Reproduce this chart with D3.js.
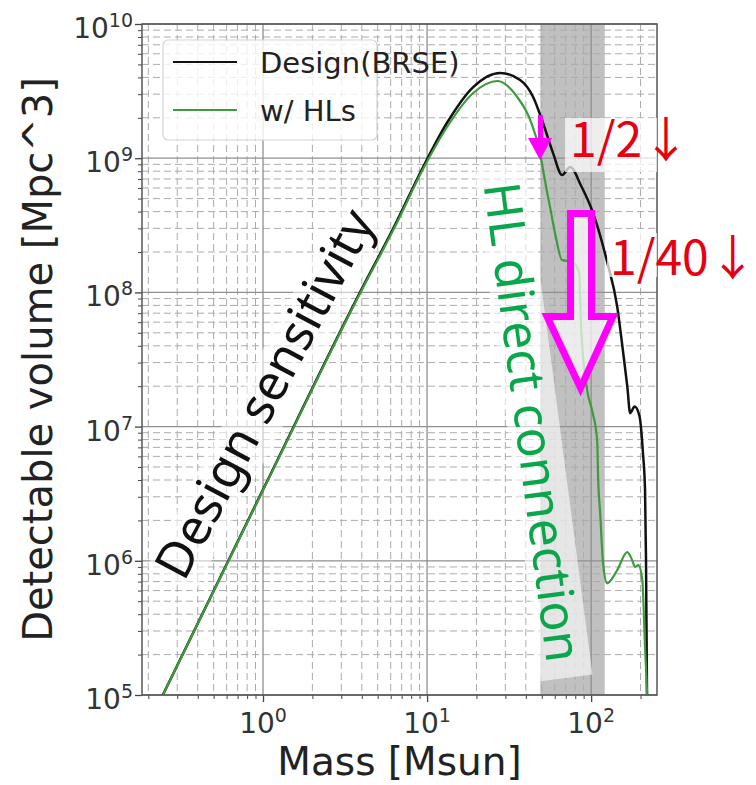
<!DOCTYPE html>
<html>
<head>
<meta charset="utf-8">
<title>Detectable volume</title>
<script src="https://cdn.jsdelivr.net/npm/d3@7"></script>
<style>
  body { margin:0; background:#fff; }
  svg { display:block; }
</style>
</head>
<body>
<script>

// ---- data ----
var designMass = [0.2, 1.0, 3.9, 6.3, 9.46, 13.2, 19.1, 27.9, 36.9, 44.3, 50.9, 58.6, 66.5, 74.5, 87, 102.8, 125, 144, 157, 166, 173, 184, 197, 207, 213, 216, 219, 221];
var designVol  = [6.0e4, 3.39e6, 1.0e8, 3.09e8, 8.6e8, 1.83e9, 3.39e9, 4.32e9, 3.83e9, 2.86e9, 1.83e9, 1.09e9, 7.5e8, 8.6e8, 6.2e8, 3.9e8, 1.7e8, 7.9e7, 3.5e7, 2.0e7, 1.26e7, 1.41e7, 1.2e7, 6.3e6, 3.4e6, 1.0e6, 1.0e5, 3.2e4];

var hlMass = [0.2, 1.0, 3.9, 6.3, 9.46, 13.2, 19.1, 26.9, 35.4, 42.5, 48.9, 50.9, 54.0, 56.2, 60.3, 66.5, 76, 84.5, 86.9, 94.6, 101.4, 108.8, 110.4, 113.5, 118.3, 125.3, 144, 166, 178, 185, 194, 205, 213, 219, 223];
var hlVol  = [6.0e4, 3.35e6, 9.8e7, 3.0e8, 8.3e8, 1.7e9, 3.06e9, 3.76e9, 2.86e9, 1.93e9, 1.09e9, 8.2e8, 5.5e8, 4.3e8, 2.75e8, 1.74e8, 1.7e8, 1.41e8, 5.4e7, 1.86e7, 1.32e7, 7.9e6, 4.0e6, 2.27e6, 9.5e5, 6.8e5, 8.5e5, 1.16e6, 1.01e6, 9.0e5, 9.3e5, 7.2e5, 2.28e5, 1.04e5, 4.6e4];

var massTicks = [1, 10, 100];
var massTickExp = ["0", "1", "2"];
var volTicks = [1e5, 1e6, 1e7, 1e8, 1e9, 1e10];
var volTickExp = ["5", "6", "7", "8", "9", "10"];

var bandMass = [49, 121];   // shaded mass range

var seriesNames = ["Design(BRSE)", "w/ HLs"];

// ---- layout ----
var W = 756, H = 785;
var L = 142, R = 657, T = 24, B = 695;

var svg = d3.select("body").append("svg")
    .attr("width", W).attr("height", H);

var x = d3.scaleLog().domain([0.183, 252]).range([L, R]);
var y = d3.scaleLog().domain([1e5, 1e10]).range([B, T]);

var minorMass = [], minorVol = [];
[0.1, 1, 10, 100].forEach(function (d) {
  for (var k = 2; k <= 9; k++) {
    var v = d * k;
    if (v >= x.domain()[0] && v <= x.domain()[1]) minorMass.push(v);
  }
});
[1e5, 1e6, 1e7, 1e8, 1e9].forEach(function (d) {
  for (var k = 2; k <= 9; k++) minorVol.push(d * k);
});

svg.append("defs").append("clipPath").attr("id", "plotclip")
  .append("rect").attr("x", L).attr("y", T).attr("width", R - L).attr("height", B - T);

// shaded band
svg.append("rect")
    .attr("x", x(bandMass[0])).attr("y", T)
    .attr("width", x(bandMass[1]) - x(bandMass[0]))
    .attr("height", B - T)
    .attr("fill", "#c0c0c0");

// grid
var grid = svg.append("g");
grid.selectAll(".gxm").data(minorMass).enter().append("line")
    .attr("x1", function (d) { return x(d); }).attr("x2", function (d) { return x(d); })
    .attr("y1", T).attr("y2", B)
    .attr("stroke", "#ababab").attr("stroke-width", 1).attr("stroke-dasharray", "7,4");
grid.selectAll(".gym").data(minorVol).enter().append("line")
    .attr("y1", function (d) { return y(d); }).attr("y2", function (d) { return y(d); })
    .attr("x1", L).attr("x2", R)
    .attr("stroke", "#ababab").attr("stroke-width", 1).attr("stroke-dasharray", "7,4");
grid.selectAll(".gx").data(massTicks).enter().append("line")
    .attr("x1", function (d) { return x(d); }).attr("x2", function (d) { return x(d); })
    .attr("y1", T).attr("y2", B)
    .attr("stroke", "#8f8f8f").attr("stroke-width", 1.3);
grid.selectAll(".gy").data(volTicks).enter().append("line")
    .attr("y1", function (d) { return y(d); }).attr("y2", function (d) { return y(d); })
    .attr("x1", L).attr("x2", R)
    .attr("stroke", "#8f8f8f").attr("stroke-width", 1.3);

// white box behind "Design sensitivity"
var ds = svg.append("g").attr("transform", "translate(280,402) rotate(-62)");
ds.append("rect").attr("x", -208).attr("y", -40).attr("width", 416).attr("height", 54)
    .attr("fill", "#fff").attr("opacity", 0.55);

// white box behind "HL direct connection"
var hl = svg.append("g").attr("transform", "translate(533,422) rotate(82.5)");
hl.append("rect").attr("x", -258).attr("y", -26).attr("width", 516).attr("height", 52)
    .attr("fill", "#fff").attr("opacity", 0.6);

// curves
var line = d3.line()
    .x(function (d) { return x(d[0]); })
    .y(function (d) { return y(d[1]); })
    .curve(d3.curveMonotoneX);

var curves = svg.append("g").attr("clip-path", "url(#plotclip)");
curves.append("path")
    .attr("d", line(d3.zip(designMass, designVol)))
    .attr("fill", "none").attr("stroke", "#111").attr("stroke-width", 2.5);
curves.append("path")
    .attr("d", line(d3.zip(hlMass, hlVol)))
    .attr("fill", "none").attr("stroke", "#3d9a3d").attr("stroke-width", 2.2);

// axes
svg.append("g").attr("transform", "translate(0," + B + ")")
    .call(d3.axisBottom(x).tickValues(minorMass).tickSize(4).tickFormat(""))
    .call(function (g) { g.select(".domain").remove(); g.selectAll("line").attr("stroke", "#444"); });
svg.append("g").attr("transform", "translate(0," + B + ")")
    .call(d3.axisBottom(x).tickValues(massTicks).tickSize(7).tickFormat(""))
    .call(function (g) { g.select(".domain").remove(); g.selectAll("line").attr("stroke", "#444").attr("stroke-width", 1.3); });
svg.append("g").attr("transform", "translate(" + L + ",0)")
    .call(d3.axisLeft(y).tickValues(minorVol).tickSize(4).tickFormat(""))
    .call(function (g) { g.select(".domain").remove(); g.selectAll("line").attr("stroke", "#444"); });
svg.append("g").attr("transform", "translate(" + L + ",0)")
    .call(d3.axisLeft(y).tickValues(volTicks).tickSize(7).tickFormat(""))
    .call(function (g) { g.select(".domain").remove(); g.selectAll("line").attr("stroke", "#444").attr("stroke-width", 1.3); });

// tick labels with superscripts
var xl = svg.selectAll(".xl").data(massTicks).enter().append("text")
    .attr("x", function (d) { return x(d); }).attr("y", 733)
    .attr("text-anchor", "middle")
    .attr("font-family", "DejaVu Sans").attr("font-size", 28).attr("fill", "#333");
xl.append("tspan").text("10");
xl.append("tspan").attr("font-size", 19).attr("dy", -11).text(function (d, i) { return massTickExp[i]; });

var yl = svg.selectAll(".yl").data(volTicks).enter().append("text")
    .attr("x", 133).attr("y", function (d) { return y(d) + 14; })
    .attr("text-anchor", "end")
    .attr("font-family", "DejaVu Sans").attr("font-size", 28).attr("fill", "#333");
yl.append("tspan").text("10");
yl.append("tspan").attr("font-size", 19).attr("dy", -11).text(function (d, i) { return volTickExp[i]; });

// axis titles
svg.append("text").attr("x", (L + R) / 2).attr("y", 775)
    .attr("text-anchor", "middle")
    .attr("font-family", "DejaVu Sans").attr("font-size", 39).attr("fill", "#222")
    .text("Mass [Msun]");
svg.append("text").attr("transform", "translate(52," + ((T + B) / 2) + ") rotate(-90)")
    .attr("text-anchor", "middle")
    .attr("font-family", "DejaVu Sans").attr("font-size", 40).attr("fill", "#222")
    .text("Detectable volume [Mpc^3]");

// legend
var leg = svg.append("g");
leg.append("rect").attr("x", 163).attr("y", 40).attr("width", 214).attr("height", 100)
    .attr("rx", 5).attr("fill", "#fff").attr("fill-opacity", 0.8)
    .attr("stroke", "#d4d4d4").attr("stroke-width", 1.2);
var legColors = ["#111", "#3d9a3d"];
var legY = [62, 110];
seriesNames.forEach(function (n, i) {
  leg.append("line").attr("x1", 173).attr("x2", 237).attr("y1", legY[i]).attr("y2", legY[i])
      .attr("stroke", legColors[i]).attr("stroke-width", 2.2);
  leg.append("text").attr("x", 260).attr("y", legY[i] + 11)
      .attr("font-family", "DejaVu Sans").attr("font-size", 29).attr("fill", "#222")
      .text(n);
});

// frame
svg.append("rect").attr("x", L).attr("y", T).attr("width", R - L).attr("height", B - T)
    .attr("fill", "none").attr("stroke", "#555").attr("stroke-width", 1.5);

// ---- annotations ----
ds.append("text").attr("x", 0).attr("y", 0).attr("text-anchor", "middle")
    .attr("font-family", "Noto Sans").attr("font-size", 50).attr("fill", "#111")
    .text("Design sensitivity");

hl.append("text").attr("x", 0).attr("y", 18).attr("text-anchor", "middle")
    .attr("font-family", "Noto Sans").attr("font-size", 50).attr("fill", "#0aa64b")
    .text("HL direct connection");

// 1/2 and 1/40 boxes
svg.append("rect").attr("x", 565).attr("y", 118).attr("width", 92).attr("height", 54)
    .attr("fill", "#fff").attr("opacity", 0.72);
svg.append("rect").attr("x", 607).attr("y", 233).attr("width", 50).attr("height", 44)
    .attr("fill", "#fff").attr("opacity", 0.72);
svg.append("text").attr("x", 570).attr("y", 157)
    .attr("font-family", "Noto Sans CJK JP").attr("font-size", 48).attr("fill", "#e60012")
    .text("1/2↓");
svg.append("text").attr("x", 610).attr("y", 275)
    .attr("font-family", "Noto Sans CJK JP").attr("font-size", 48).attr("fill", "#e60012")
    .text("1/40↓");

// magenta arrows
svg.append("polygon")
    .attr("points", "538,115 543,115 543,138 552,138 540,160 528,138 538,138")
    .attr("fill", "#ff00ff");
svg.append("polygon")
    .attr("points", "570.5,213.5 591.5,213.5 591.5,316.5 613,316.5 580.5,388 547,316.5 570.5,316.5")
    .attr("fill", "#fff").attr("fill-opacity", 0.7)
    .attr("stroke", "#ff00ff").attr("stroke-width", 7).attr("stroke-linejoin", "miter");

</script>
</body>
</html>
